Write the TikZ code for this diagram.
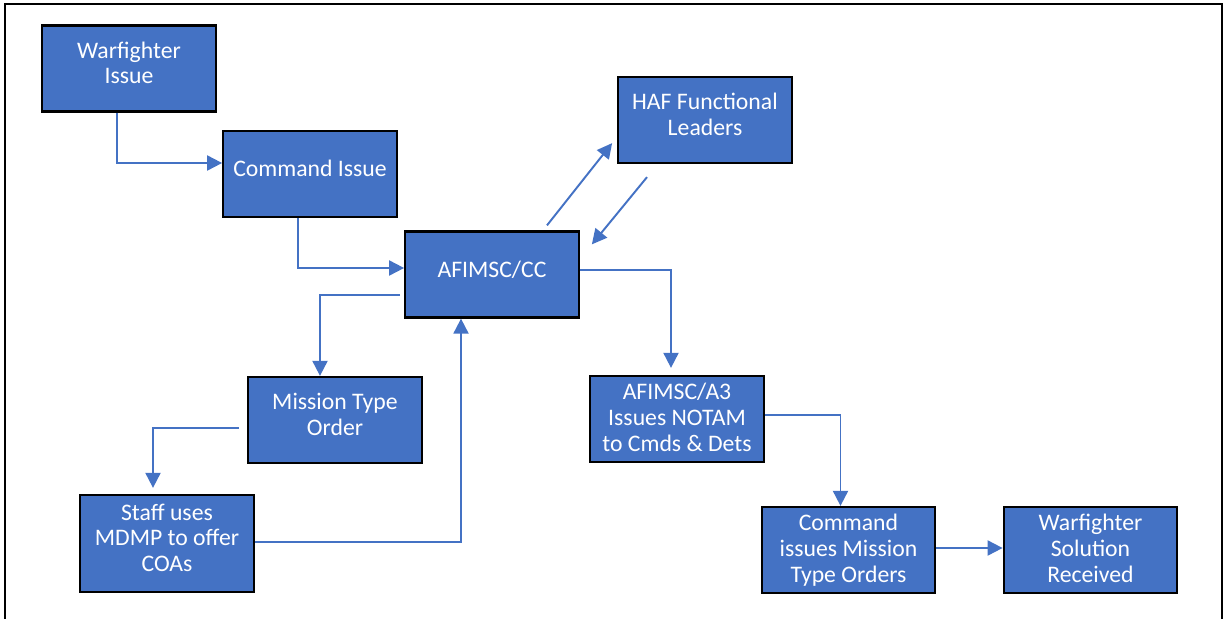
\documentclass[tikz,border=0pt]{standalone}
\usepackage{fontspec}
\setmainfont{Carlito}
\usepackage{xcolor}
\definecolor{boxBlue}{HTML}{4472C4}
\colorlet{lineBlue}{boxBlue}
\usepackage{tikz}
\usetikzlibrary{arrows.meta, positioning}

\begin{document}
\begin{tikzpicture}[x=0.02cm, y=-0.02cm,
		blk/.style={draw=black, line width=1.3pt, fill=boxBlue, text=white,
			minimum width=3.47cm, minimum height=1.72cm, inner sep=2pt,
			align=center, text depth=6.5pt,
			font=\fontsize{13.5}{14.6}\selectfont},
		flow/.style={->, lineBlue, line width=1.1pt},
		>={Triangle[length=0.3cm, width=0.3cm]}
	]
	\useasboundingbox (0,0) rectangle (1225,619);
	% ===== Outer frame (open at the bottom) =====
	\draw[line width=1.2pt] (5,630) -- (5,4) -- (1222,4) -- (1222,630);

	% ===== Boxes =====
	\node[blk] (wfissue)   at (129,68.5)  {Warfighter\\Issue};
	\node[blk] (cmdissue)  at (310,174)   {Command Issue};
	\node[blk] (haf)       at (705,120)   {HAF Functional\\Leaders};
	\node[blk] (cc)        at (492,274.5) {AFIMSC/CC};
	\node[blk] (mto)       at (335,420)   {Mission Type\\Order};
	\node[blk, minimum height=1.94cm] (staff) at (167,543.5)
		{Staff uses\\MDMP to offer\\COAs};
	\node[blk, text depth=2pt] (a3)        at (677,419)   {AFIMSC/A3\\Issues NOTAM\\to Cmds \& Dets};
	\node[blk, text depth=2pt] (cmdorders) at (848.5,550) {Command\\issues Mission\\Type Orders};
	\node[blk, text depth=2pt] (wfsol)     at (1090.5,550) {Warfighter\\Solution\\Received};

	% ===== Connectors =====
	\draw[flow] ([xshift=-0.24cm]wfissue.south) |- ([yshift=0.22cm]cmdissue.west);
	\draw[flow] ([xshift=-0.24cm]cmdissue.south) |- ([yshift=0.13cm]cc.west);
	\draw[flow] ([xshift=1.1cm, yshift=0.1cm]cc.north)
		-- ([xshift=-0.1cm, yshift=0.42cm]haf.south west);
	\draw[flow] ([xshift=-1.16cm, yshift=-0.26cm]haf.south)
		-- ([xshift=0.24cm, yshift=-0.28cm]cc.north east);
	\draw[flow] ([yshift=0.09cm]cc.east) -| ([xshift=-0.12cm, yshift=0.14cm]a3.north);
	\draw[flow] ([xshift=-0.08cm, yshift=-0.41cm]cc.west) -| ([xshift=-0.3cm]mto.north);
	\draw[flow] ([xshift=-0.16cm, yshift=-0.16cm]mto.west)
		-| ([xshift=-0.28cm, yshift=0.12cm]staff.north);
	\draw[flow] ([yshift=0.03cm]staff.east) -| ([xshift=-0.62cm]cc.south);
	\draw[flow] ([yshift=0.08cm]a3.east) -| ([xshift=-0.16cm]cmdorders.north);
	\draw[flow] ([yshift=0.04cm]cmdorders.east) -- ([yshift=0.04cm]wfsol.west);
\end{tikzpicture}
\end{document}
